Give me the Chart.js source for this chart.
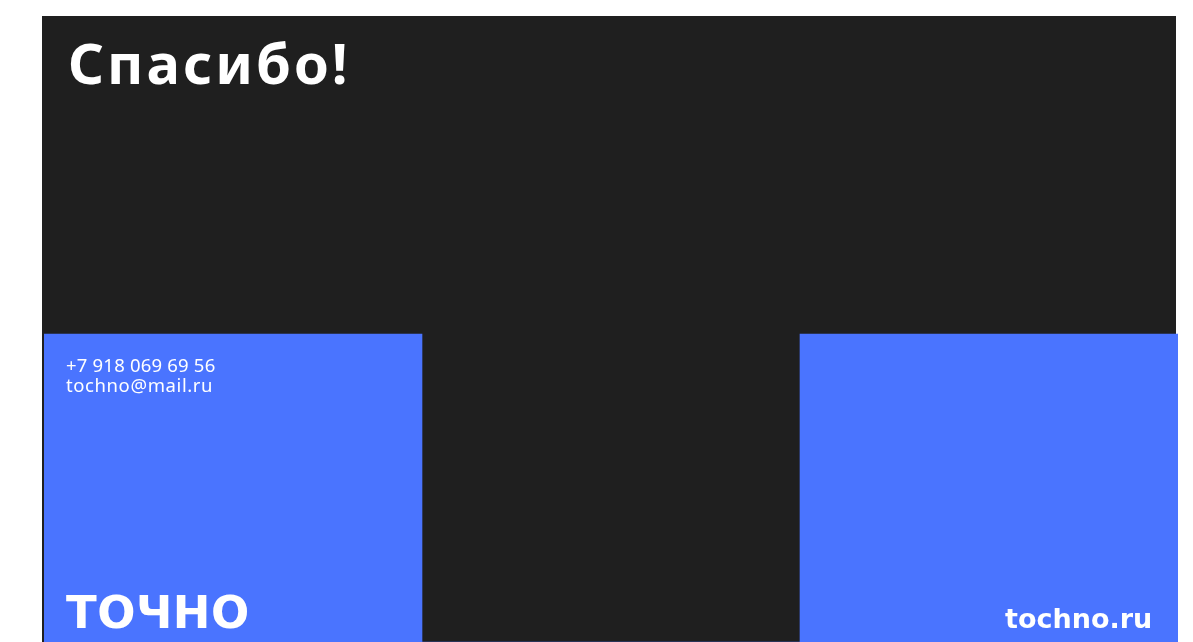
<!DOCTYPE html>
<html lang="ru">
<head>
<meta charset="utf-8">
<title>Спасибо!</title>
<script src="https://cdn.jsdelivr.net/npm/chart.js@4.4.1/dist/chart.umd.min.js"></script>
<style>
  html, body { margin: 0; padding: 0; background: #ffffff; width: 1193px; height: 642px; overflow: hidden; }
  #dark { position: absolute; left: 42px; top: 16px; width: 1134px; height: 626px; background: #1f1f1f; }
  #wrap { position: absolute; left: 42px; top: 16px; width: 1136px; height: 626px; }
  .txt { position: absolute; color: #ffffff; white-space: nowrap; line-height: 1; }
  #title { left: 68px; top: 24px; font: 700 56px "Noto Sans", sans-serif; letter-spacing: 3px; }
  #phone { left: 66px; top: 352px; font: 400 18.5px "Noto Sans", sans-serif; letter-spacing: 0.2px; }
  #mail { left: 66px; top: 372px; font: 400 18.5px "Noto Sans", sans-serif; letter-spacing: 0.6px; }
  #logo { left: 66px; top: 586px; font: 700 45px "DejaVu Sans", sans-serif; letter-spacing: 0.5px; }
  #site { left: 1005px; top: 603px; font: 700 27px "DejaVu Sans", sans-serif; }
</style>
</head>
<body>
<div id="dark"></div>
<div id="wrap"><canvas id="slide"></canvas></div>
<div class="txt" id="title">Спасибо!</div>
<div class="txt" id="phone">+7 918 069 69 56</div>
<div class="txt" id="mail">tochno@mail.ru</div>
<div class="txt" id="logo">ТОЧНО</div>
<div class="txt" id="site">tochno.ru</div>
<script>
//slide data: three equal columns, blue blocks rise from the bottom
var columns = ["contacts", "gap", "site"];
var blockHeights = [308, 0, 308];
var slideHeight = 626;

//draw the blocks as full-width bars
var ctx = document.getElementById("slide").getContext("2d");
new Chart(ctx, {
    type: "bar",
    data: {
        labels: columns,
        datasets: [{
            data: blockHeights,
            backgroundColor: "#4a74ff",
            borderWidth: 0,
            barPercentage: 1,
            categoryPercentage: 1
        }]
    },
    options: {
        responsive: true,
        maintainAspectRatio: false,
        animation: false,
        layout: { padding: { left: 2, right: 0, top: 0, bottom: 0 } },
        plugins: {
            legend: { display: false },
            tooltip: { enabled: false }
        },
        scales: {
            x: { display: false, grid: { display: false } },
            y: { display: false, min: 0, max: slideHeight, grid: { display: false } }
        }
    }
});
</script>
</body>
</html>
